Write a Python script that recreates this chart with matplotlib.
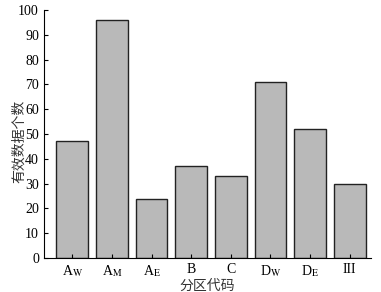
import matplotlib.pyplot as plt

plt.rcParams['font.family'] = ['Liberation Serif', 'Noto Sans CJK SC']
plt.rcParams['mathtext.fontset'] = 'stix'

categories = ["A$_{\\mathrm{W}}$", "A$_{\\mathrm{M}}$", "A$_{\\mathrm{E}}$", "B", "C",
              "D$_{\\mathrm{W}}$", "D$_{\\mathrm{E}}$", "III"]
counts = [47, 96, 24, 37, 33, 71, 52, 30]

fig = plt.figure(figsize=(3.81, 2.92), dpi=100)
ax = fig.add_axes([0.115, 0.116, 0.86, 0.85])

x = range(len(categories))
ax.bar(x, counts, width=0.8, color='#b9b9b9', edgecolor='#222222', linewidth=1.0)

ax.set_xlim(-0.72, 7.55)
ax.set_ylim(0, 100)
ax.set_yticks(range(0, 101, 10))
ax.set_xticks(list(x))
ax.set_xticklabels(categories)

for s in ['top', 'right']:
    ax.spines[s].set_visible(False)
ax.tick_params(direction='in', length=3, labelsize=10)

ax.set_ylabel("有效数据个数", family=['Noto Sans CJK SC'], fontsize=10, color='#333333')
ax.yaxis.set_label_coords(-0.055, 0.47)
ax.set_xlabel("分区代码", family=['Noto Sans CJK SC'], fontsize=10, color='#333333', labelpad=0)

fig.savefig("out.png", dpi=100)
